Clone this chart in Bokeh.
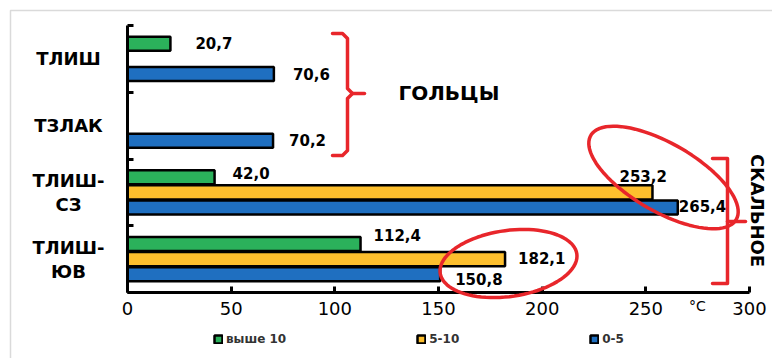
import numpy as np
from bokeh.plotting import figure
from bokeh.models import (ColumnDataSource, Range1d, FixedTicker, Label,
                          PolyAnnotation, Legend, LegendItem)
from bokeh.core.properties import value
from bokeh.embed import file_html
from bokeh.resources import INLINE

# ---- data -------------------------------------------------------------
categories = ["ТЛИШ", "ТЗЛАК", "ТЛИШ-СЗ", "ТЛИШ-ЮВ"]
category_lines = [["ТЛИШ"], ["ТЗЛАК"], ["ТЛИШ-", "СЗ"], ["ТЛИШ-", "ЮВ"]]
series_names = ["выше 10", "5-10", "0-5"]
above_10 = [20.7, None, 42.0, 112.4]
from_5_to_10 = [None, None, 253.2, 182.1]
from_0_to_5 = [70.6, 70.2, 265.4, 150.8]
x_ticks = [0, 50, 100, 150, 200, 250, 300]

# ---- layout constants ---------------------------------------------------
W, H = 772, 358
AX_LEFT, AX_RIGHT, AX_TOP, AX_BOTTOM = 127, 749, 25, 292   # plot area, px
XMAX, NCAT = 300, len(categories)
FONT = "DejaVu Sans"
RED = "#E8262B"
colors = ["#2BB15B", "#FDBF2D", "#1F6FC0"]
slot_offsets = [0.225, 0.0, -0.225]   # green above, blue below the centre
BAR_H = 0.21
SX = (AX_RIGHT - AX_LEFT) / XMAX      # px per °C
SY = (AX_BOTTOM - AX_TOP) / NCAT      # px per category


def px_x(px):
    return (px - AX_LEFT) / SX


def px_y(py):
    return (AX_BOTTOM - py) / SY


# categories run top to bottom
centers = [NCAT - 0.5 - i for i in range(NCAT)]

# the frame fills the whole canvas; the axes sit at x=0 / y=0 inside it
p = figure(width=W, height=H,
           x_range=Range1d(px_x(0), px_x(W)), y_range=Range1d(px_y(H), px_y(0)),
           output_backend="svg", toolbar_location=None,
           min_border=0, min_border_left=0, min_border_right=0,
           min_border_top=0, min_border_bottom=0)
p.grid.visible = False
p.outline_line_color = None
p.background_fill_color = "white"
p.border_fill_color = "white"

# axes
p.xaxis.fixed_location = 0
p.xaxis.bounds = (0, XMAX)
p.xaxis.ticker = FixedTicker(ticks=x_ticks)
p.xaxis.axis_line_width = 3
p.xaxis.axis_line_color = "black"
p.xaxis.major_tick_in = 6
p.xaxis.major_tick_out = 0
p.xaxis.major_tick_line_width = 3
p.xaxis.minor_tick_line_color = None
p.xaxis.major_label_text_font = FONT
p.xaxis.major_label_text_font_size = "18px"
p.xaxis.major_label_text_color = "black"
p.xaxis.major_label_standoff = 9

p.yaxis.fixed_location = 0
p.yaxis.bounds = (0, NCAT)
p.yaxis.ticker = FixedTicker(ticks=list(range(NCAT + 1)))
p.yaxis.major_label_overrides = {i: "" for i in range(NCAT + 1)}
p.yaxis.axis_line_width = 3
p.yaxis.axis_line_color = "black"
p.yaxis.major_tick_in = 6
p.yaxis.major_tick_out = 0
p.yaxis.major_tick_line_width = 3
p.yaxis.minor_tick_line_color = None

# light frame line along the top and left edges
p.add_layout(PolyAnnotation(xs=[px_x(10), px_x(10), px_x(W + 20), px_x(W + 20)],
                            ys=[px_y(H + 20), px_y(10), px_y(10), px_y(H + 20)],
                            fill_color=None, line_color="#DADADA",
                            line_alpha=1, line_width=1.5))

# bars
series = [above_10, from_5_to_10, from_0_to_5]
renderers = []
for vals, col, off in zip(series, colors, slot_offsets):
    ys = [c + off for c, v in zip(centers, vals) if v is not None]
    xs = [v for v in vals if v is not None]
    src = ColumnDataSource(dict(y=ys, right=xs))
    r = p.hbar(y="y", left=0, right="right", height=BAR_H, source=src,
               fill_color=col, line_color="black", line_width=2.5)
    renderers.append(r)

# value labels: (series index, category index, dx px, dy px)
label_pos = [(0, 0, 25, -1), (2, 0, 19, 0), (2, 1, 16, -1),
             (0, 2, 18, -4), (1, 2, -33, -16), (2, 2, 1, -1),
             (0, 3, 13, -9), (1, 3, 13, -1), (2, 3, 15, 5)]
lx, ly, lt, ldx, ldy = [], [], [], [], []
for si, ci, dx, dy in label_pos:
    v = series[si][ci]
    lx.append(v)
    ly.append(centers[ci] + slot_offsets[si])
    lt.append(f"{v:.1f}".replace(".", ","))
    ldx.append(dx)
    ldy.append(dy)
p.text(x="x", y="y", text="text", x_offset="dx", y_offset="dy",
       source=ColumnDataSource(dict(x=lx, y=ly, text=lt, dx=ldx, dy=ldy)),
       text_font=value(FONT), text_font_style="bold", text_font_size="15px",
       text_color="black", text_align="left", text_baseline="middle")

# category names to the left of the axis
for c, lines in zip(centers, category_lines):
    n = len(lines)
    for k, line in enumerate(lines):
        dy_px = (k - (n - 1) / 2) * 24
        p.add_layout(Label(x=px_x(68), y=c - dy_px / SY, text=line,
                           text_font=FONT, text_font_style="bold",
                           text_font_size="18px", text_color="black",
                           text_align="center", text_baseline="middle"))

# unit label
p.add_layout(Label(x=px_x(697), y=px_y(305), text="°C", text_font=FONT,
                   text_font_size="14px", text_color="black",
                   text_align="center", text_baseline="middle"))

# group brackets
gb = [(332, 33), (342, 33), (347, 38), (347, 88), (352, 93), (347, 98),
      (347, 150), (342, 155), (332, 155)]
sb = [(712, 158), (727, 158), (727, 283), (712, 283)]
p.multi_line(xs=[[px_x(a) for a, _ in gb], [px_x(352), px_x(364)],
                 [px_x(a) for a, _ in sb], [px_x(727), px_x(745)]],
             ys=[[px_y(b) for _, b in gb], [px_y(93), px_y(93)],
                 [px_y(b) for _, b in sb], [px_y(221), px_y(221)]],
             line_color=RED, line_width=3.5, line_join="round", line_cap="round")

p.add_layout(Label(x=px_x(398), y=px_y(92), text="ГОЛЬЦЫ", text_font=FONT,
                   text_font_style="bold", text_font_size="20px",
                   text_color="black", text_align="left", text_baseline="middle"))
p.add_layout(Label(x=px_x(757), y=px_y(210), text="СКАЛЬНОЕ", text_font=FONT,
                   text_font_style="bold", text_font_size="18px",
                   text_color="black", text_align="center",
                   text_baseline="middle", angle=-np.pi / 2))


# highlight ellipses (centre px, semi-axes px, tilt deg counter-clockwise)
def ellipse(cx, cy, a, b, deg):
    t = np.linspace(0, 2 * np.pi, 90)
    th = np.radians(deg)
    ex = a * np.cos(t) * np.cos(th) - b * np.sin(t) * np.sin(th)
    ey = a * np.cos(t) * np.sin(th) + b * np.sin(t) * np.cos(th)
    return [px_x(cx + u) for u in ex], [px_y(cy - w) for w in ey]


for cx, cy, a, b, deg in [(663, 177, 84, 34, -30), (508, 263, 69, 33, 8)]:
    exs, eys = ellipse(cx, cy, a, b, deg)
    p.add_layout(PolyAnnotation(xs=exs, ys=eys, fill_color=None,
                                line_color=RED, line_alpha=1, line_width=3.5))

# legend under the axis
legend = Legend(items=[LegendItem(label=n, renderers=[r])
                       for n, r in zip(series_names, renderers)],
                orientation="horizontal", location=(213, H - 346), spacing=130,
                glyph_width=10, glyph_height=10, label_standoff=3,
                label_height=12, label_text_font=FONT,
                label_text_font_style="bold", label_text_font_size="12px",
                label_text_color="#333333", padding=0, margin=0,
                border_line_color=None, background_fill_alpha=0)
p.add_layout(legend)

open("out.html", "w").write(file_html(p, INLINE))
